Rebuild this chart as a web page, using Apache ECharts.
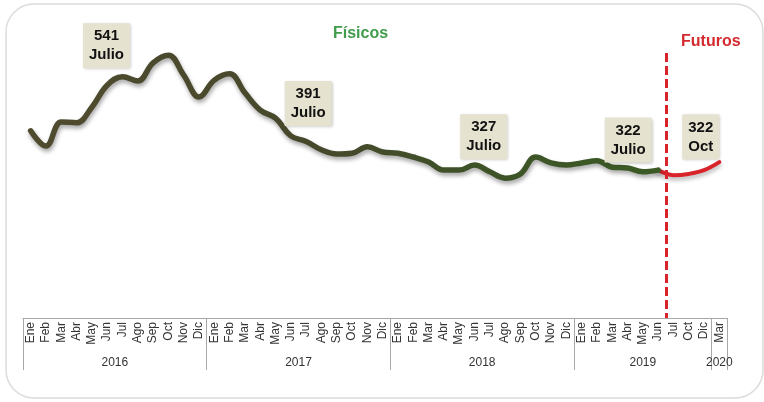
<!DOCTYPE html>
<html>
<head>
<meta charset="utf-8">
<script src="https://cdn.jsdelivr.net/npm/echarts@6/dist/echarts.min.js"></script>
<style>
  html, body { margin: 0; padding: 0; background: #fff; }
  #chart { width: 764px; height: 402px; }
</style>
</head>
<body>
<div id="chart"></div>
<script>
  // meses del eje: 2016-2018 completos, 2019 hasta Jun (físicos) + futuros
  var months = [
    'Ene','Feb','Mar','Abr','May','Jun','Jul','Ago','Sep','Oct','Nov','Dic',
    'Ene','Feb','Mar','Abr','May','Jun','Jul','Ago','Sep','Oct','Nov','Dic',
    'Ene','Feb','Mar','Abr','May','Jun','Jul','Ago','Sep','Oct','Nov','Dic',
    'Ene','Feb','Mar','Abr','May','Jun',
    'Jul','Oct','Dic','Mar'
  ];
  // años y cuántas etiquetas de mes cubre cada uno
  var years = ['2016', '2017', '2018', '2019', '2020'];
  var yearSpan = [12, 12, 12, 9, 1];

  // precios físicos
  var fisicos = [
    413, 377, 434, 432, 469, 521, 541, 531, 574, 592, 545, 493,
    533, 548, 503, 462, 443, 401, 388, 368, 358, 360, 375, 363,
    360, 351, 339, 320, 320, 332, 316, 301, 311, 351, 337, 332,
    337, 342, 327, 325, 316, 320
  ];
  // futuros, empiezan en el último mes físico (Jun 2019)
  var futurosStart = 41;
  var futuros = [320, 308, 311, 320, 339];

  // recuadros de texto
  var notaIdx = [6, 18, 30, 41];
  var notaValor = [541, 391, 327, 322];
  var notaMes = ['Julio', 'Julio', 'Julio', 'Julio'];
  var notaFutIdx = 43;
  var notaFutValor = 322;
  var notaFutMes = 'Oct';

  var corte = 42;  // límite físicos / futuros

  var font = 'Liberation Sans, Arial, sans-serif';

  // fronteras y centros de cada año sobre el eje de valor 0..46
  var yearEdges = [0], yearCenters = [];
  yearSpan.forEach(function (n, i) {
    yearCenters.push(yearEdges[i] + n / 2);
    yearEdges.push(yearEdges[i] + n);
  });

  var futData = months.map(function (m, i) {
    var k = i - futurosStart;
    return (k >= 0 && k < futuros.length) ? futuros[k] : null;
  });

  var boxLabel = {
    show: true,
    position: 'inside',
    color: '#111',
    fontFamily: font,
    fontSize: 15,
    fontWeight: 'bold',
    lineHeight: 19,
    align: 'center',
    backgroundColor: '#e6e2d0',
    padding: [4, 6, 3, 6],
    shadowColor: 'rgba(0,0,0,0.25)',
    shadowBlur: 3,
    shadowOffsetX: 1,
    shadowOffsetY: 1
  };
  var offsets = [[-16, -31], [2, -38], [-6, -35], [-30, -30]];

  var chart = echarts.init(document.getElementById('chart'));
  chart.setOption({
    animation: false,
    grid: { left: 23, right: 37, top: 18, bottom: 84 },
    graphic: [
      {
        type: 'rect',
        shape: { x: 6, y: 4, width: 757, height: 394, r: 28 },
        style: { fill: 'none', stroke: '#dcdcdc', lineWidth: 1.5 },
        silent: true
      },
      {
        type: 'text', left: 333, top: 26,
        style: { text: 'Físicos', fill: '#3f9d4c', font: 'bold 16px ' + font }
      },
      {
        type: 'text', left: 681, top: 34,
        style: { text: 'Futuros', fill: '#d42a2f', font: 'bold 16px ' + font }
      }
    ],
    xAxis: [
      {
        type: 'category',
        data: months,
        boundaryGap: true,
        axisLine: { onZero: false, lineStyle: { color: '#a8a8a8', width: 1 } },
        axisTick: { show: false },
        axisLabel: {
          interval: 0, rotate: 90, margin: 4,
          fontSize: 12, color: '#333', fontFamily: font
        }
      },
      {
        type: 'value',
        min: 0, max: months.length,
        position: 'bottom',
        axisLine: { show: false, onZero: false },
        splitLine: { show: false },
        axisTick: {
          show: true, length: 52, customValues: yearEdges,
          lineStyle: { color: '#a8a8a8', width: 1 }
        },
        axisLabel: {
          customValues: yearCenters, margin: 39,
          fontSize: 12, color: '#333', fontFamily: font,
          formatter: function (v) {
            var i = yearCenters.indexOf(v);
            return i >= 0 ? years[i] : '';
          }
        }
      }
    ],
    yAxis: { type: 'value', min: -30, max: 680, show: false },
    series: [
      {
        name: 'Futuros',
        type: 'line',
        data: futData,
        smooth: 0.4,
        showSymbol: false,
        z: 2,
        lineStyle: {
          color: '#d9232b', width: 4, cap: 'round',
          shadowColor: 'rgba(0,0,0,0.3)', shadowBlur: 4, shadowOffsetY: 3
        },
        markPoint: {
          symbol: 'rect', symbolSize: 1,
          itemStyle: { color: 'rgba(0,0,0,0)' },
          label: boxLabel,
          data: [{
            coord: [notaFutIdx, futData[notaFutIdx]],
            label: { offset: [12, -37], formatter: notaFutValor + '\n' + notaFutMes }
          }]
        }
      },
      {
        name: 'Físicos',
        type: 'line',
        data: fisicos,
        smooth: 0.4,
        showSymbol: false,
        z: 3,
        lineStyle: {
          width: 5.5, cap: 'round', join: 'round',
          color: new echarts.graphic.LinearGradient(0, 0, 1, 0, [
            { offset: 0, color: '#4f4b2f' },
            { offset: 0.45, color: '#47482b' },
            { offset: 0.7, color: '#3e5228' },
            { offset: 1, color: '#3b5a25' }
          ]),
          shadowColor: 'rgba(0,0,0,0.35)', shadowBlur: 4, shadowOffsetX: 1, shadowOffsetY: 3
        },
        markPoint: {
          symbol: 'rect', symbolSize: 1,
          itemStyle: { color: 'rgba(0,0,0,0)' },
          label: boxLabel,
          data: notaIdx.map(function (idx, i) {
            return {
              coord: [idx, fisicos[idx]],
              label: { offset: offsets[i], formatter: notaValor[i] + '\n' + notaMes[i] }
            };
          })
        }
      },
      {
        // línea punteada que separa físicos y futuros
        type: 'line',
        xAxisIndex: 1,
        data: [],
        markLine: {
          silent: true,
          symbol: 'none',
          label: { show: false },
          lineStyle: { color: '#d9232b', width: 3, type: [9, 4] },
          data: [[{ coord: [corte, 597] }, { coord: [corte, -30] }]]
        }
      }
    ]
  });
</script>
</body>
</html>
